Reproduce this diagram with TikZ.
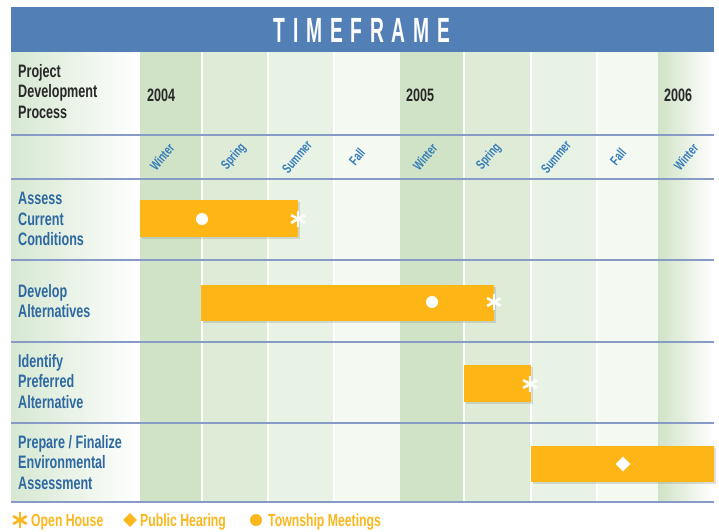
\documentclass[tikz,border=0pt]{standalone}
\usepackage{fontspec}
\setmainfont[FakeStretch=0.7]{Liberation Sans}
\newfontfamily\titlefont[FakeStretch=0.55,LetterSpace=22]{Liberation Sans}
\usetikzlibrary{shapes.geometric,shadows}
\definecolor{hdrblue}{RGB}{82,128,182}
\definecolor{rulecol}{RGB}{135,155,198}
\definecolor{winterc}{RGB}{208,227,199}
\definecolor{springc}{RGB}{222,236,215}
\definecolor{summerc}{RGB}{233,243,229}
\definecolor{fallc}{RGB}{244,249,242}
\definecolor{labelgreen}{RGB}{214,232,210}
\definecolor{bartone}{RGB}{253,182,22}
\definecolor{txtblue}{RGB}{46,104,162}
\definecolor{seasonblue}{RGB}{52,122,184}
\definecolor{darktxt}{RGB}{40,40,40}
\definecolor{legorange}{RGB}{250,183,30}
\tikzset{
  lbl/.style={anchor=north west, inner sep=0, align=left,
    font=\bfseries\fontsize{18}{20.5}\selectfont},
  yearlbl/.style={anchor=west, inner sep=0, text=darktxt,
    font=\bfseries\fontsize{18}{20}\selectfont},
  season/.style={rotate=50, inner sep=0, text=seasonblue,
    font=\bfseries\fontsize{13.5}{13.5}\selectfont},
  bar/.style={fill=bartone, inner sep=0, anchor=north west,
    drop shadow={opacity=0.25, shadow xshift=2pt, shadow yshift=-2pt}},
  dotmark/.style={circle, fill=#1, minimum size=12pt, inner sep=0},
  dotmark/.default=white,
  diamark/.style={diamond, fill=#1, minimum size=15pt, inner sep=0},
  diamark/.default=white,
  astmark/.style={circle, minimum size=16pt, inner sep=0,
    path picture={
      \foreach \a in {90,30,150}{
        \draw[line width=2.6pt,#1]
          ([shift={(\a:8pt)}]path picture bounding box.center) --
          ([shift={(\a+180:8pt)}]path picture bounding box.center);}}},
  astmark/.default=white,
  legtxt/.style={anchor=base west, inner sep=0, text=legorange,
    font=\bfseries\fontsize{17.5}{18}\selectfont},
  rule/.style={rulecol, line width=1.5pt},
  sep/.style={white, line width=1.2pt}
}
\begin{document}
\begin{tikzpicture}[x=1pt,y=-1pt]
\useasboundingbox (0,0) rectangle (719,531);
\fill[white] (0,0) rectangle (719,531);
% column backgrounds
\shade[left color=labelgreen, right color=white] (11,52) rectangle (140,502);
\fill[winterc] (140,52) rectangle (202,502);
\fill[springc] (202,52) rectangle (268,502);
\fill[summerc] (268,52) rectangle (334,502);
\fill[fallc] (334,52) rectangle (400,502);
\fill[winterc] (400,52) rectangle (464,502);
\fill[springc] (464,52) rectangle (531,502);
\fill[summerc] (531,52) rectangle (597,502);
\fill[fallc] (597,52) rectangle (658,502);
\shade[left color=winterc, right color=white] (658,52) rectangle (714,502);
\foreach \x in {202,268,334,464,531,597}{\draw[sep] (\x,52) -- (\x,502);}
% rules
\foreach \y in {135,179,260,342,423,502}{\draw[rule] (11,\y) -- (714,\y);}
% header
\node[fill=hdrblue, minimum width=703, minimum height=45, anchor=north west, inner sep=0] (hdr) at (11,7) {};
\node[text=white, inner sep=0, font=\titlefont\bfseries\fontsize{35}{40}\selectfont] (title) at (362,30) {TIMEFRAME};
% labels
\node[lbl, text=darktxt] (pdp) at (18,64) {Project\\Development\\Process};
\node[yearlbl] (y2004) at (147,95) {2004};
\node[yearlbl] (y2005) at (406,95) {2005};
\node[yearlbl] (y2006) at (664,95) {2006};
\node[season] (s1) at (162,157) {Winter};
\node[season] (s2) at (234,157) {Spring};
\node[season] (s3) at (297,157) {Summer};
\node[season] (s4) at (357,157) {Fall};
\node[season] (s5) at (425,157) {Winter};
\node[season] (s6) at (489,157) {Spring};
\node[season] (s7) at (556,157) {Summer};
\node[season] (s8) at (618,157) {Fall};
\node[season] (s9) at (686,157) {Winter};
\node[lbl, text=txtblue] (r1) at (18,192) {Assess\\Current\\Conditions};
\node[lbl, text=txtblue] (r2) at (18,284) {Develop\\Alternatives};
\node[lbl, text=txtblue] (r3) at (18,354) {Identify\\Preferred\\Alternative};
\node[lbl, text=txtblue] (r4) at (18,435) {Prepare / Finalize\\Environmental\\Assessment};
% bars
\node[bar, minimum width=158, minimum height=37] (b1) at (140,200) {};
\node[bar, minimum width=293, minimum height=36] (b2) at (201,285) {};
\node[bar, minimum width=67, minimum height=37] (b3) at (464,365) {};
\node[bar, minimum width=183, minimum height=36] (b4) at (531,446) {};
% markers
\node[dotmark] (m1) at (202,219) {};
\node[dotmark] (m2) at (432,302) {};
\node[astmark] (a1) at (298,219) {};
\node[astmark] (a2) at (494,302) {};
\node[astmark] (a3) at (530,384) {};
\node[diamark] (d1) at (623,464) {};
% legend
\node[astmark=legorange, minimum size=16pt] (la) at (20,520) {};
\node[legtxt] (lat) at (31,526) {Open House};
\node[diamark=legorange, minimum size=14pt] (ld) at (130,520) {};
\node[legtxt] (ldt) at (140,526) {Public Hearing};
\node[dotmark=legorange, minimum size=12pt] (lc) at (256,520) {};
\node[legtxt] (lct) at (268,526) {Township Meetings};
\end{tikzpicture}
\end{document}
